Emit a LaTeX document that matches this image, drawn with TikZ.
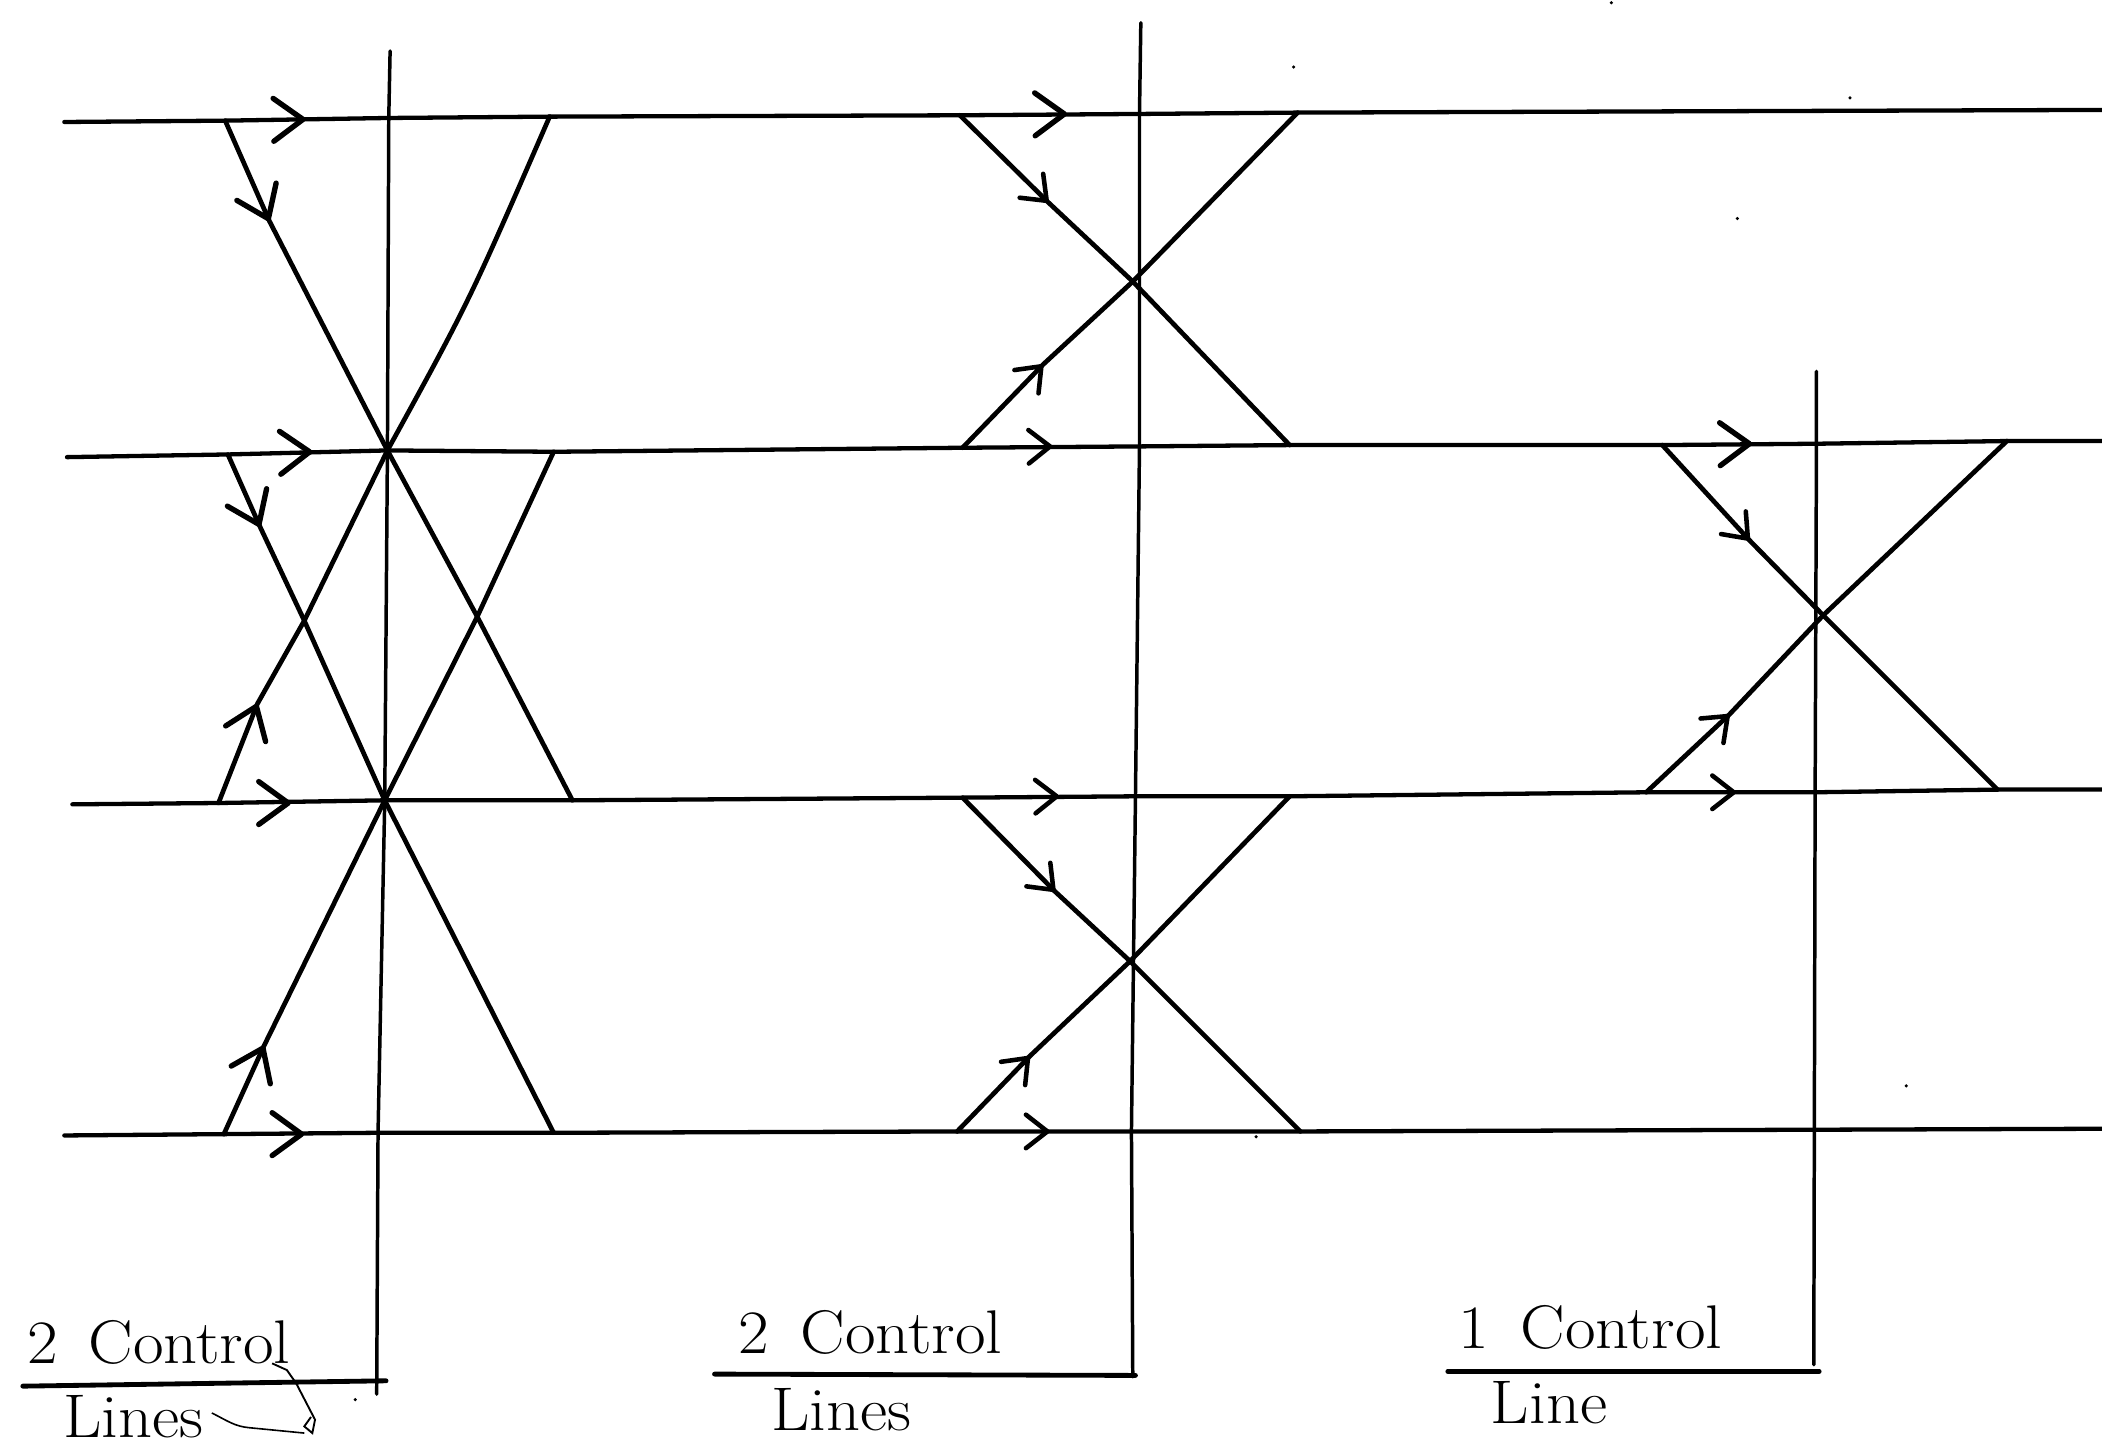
\documentclass[tikz,border=0pt]{standalone}
\usepackage{tikz}
\usepackage{graphicx}
\usetikzlibrary{arrows.meta,calc}
\newcommand{\wide}[1]{\scalebox{1.08}[1]{#1}}

\begin{document}
\begin{tikzpicture}[x=1pt,y=-1pt,
  every node/.style={font=\fontsize{46}{50}\selectfont,inner sep=0pt,anchor=base west},
  hl/.style={draw=black,line width=3.2pt,line cap=round,line join=round},
  vl/.style={draw=black,line width=2.6pt,line cap=round,line join=round},
  sl/.style={draw=black,line width=3.5pt,line cap=round,line join=round},
  rl/.style={draw=black,line width=3.6pt,line cap=round},
  ar/.style={-{Straight Barb[length=22pt,width=32pt,line width=4pt,round]},line width=3.5pt},
  ars/.style={-{Straight Barb[length=16pt,width=25pt,line width=3.4pt,round]},line width=3.2pt}]
\useasboundingbox (0,0) rectangle (1568,1076);
% horizontal lines, junctions from left to right
\coordinate (a0) at (48,91); \coordinate (a1) at (168,90); \coordinate (a2) at (290,88); \coordinate (a3) at (410,87);
\coordinate (a4) at (716,86); \coordinate (a5) at (850,85); \coordinate (a6) at (968,84); \coordinate (a7) at (1568,82);
\coordinate (b0) at (50,341); \coordinate (b1) at (170,339); \coordinate (b2) at (289,336); \coordinate (b3) at (413,337);
\coordinate (b4) at (718,334); \coordinate (b5) at (850,333); \coordinate (b6) at (962,332); \coordinate (b7) at (1240,332);
\coordinate (b8) at (1355,331); \coordinate (b9) at (1497,329); \coordinate (b10) at (1568,329);
\coordinate (c0) at (54,600); \coordinate (c1) at (163,599); \coordinate (c2) at (287,597); \coordinate (c3) at (427,597);
\coordinate (c4) at (718,595); \coordinate (c5) at (847,594); \coordinate (c6) at (962,594); \coordinate (c7) at (1228,591);
\coordinate (c8) at (1354,591); \coordinate (c9) at (1490,589); \coordinate (c10) at (1568,589);
\coordinate (d0) at (48,847); \coordinate (d1) at (167,846); \coordinate (d2) at (282,845); \coordinate (d3) at (413,845);
\coordinate (d4) at (714,844); \coordinate (d5) at (844,844); \coordinate (d6) at (970,844); \coordinate (d7) at (1568,842);
% crossings
\coordinate (x1) at (227,463); \coordinate (x2) at (356,460);
\coordinate (x3) at (845,210); \coordinate (x4) at (843,717); \coordinate (x5) at (1360,459);
% ends of the control lines
\coordinate (v1) at (291,38); \coordinate (w1) at (281,1040);
\coordinate (v2) at (851,17); \coordinate (w2) at (845,1027);
\coordinate (v3) at (1355,277); \coordinate (w3) at (1353,1018);
\coordinate (r1) at (17,1034); \coordinate (s1) at (288,1030);
\coordinate (r2) at (533,1025); \coordinate (s2) at (847,1026);
\coordinate (r3) at (1080,1023); \coordinate (s3) at (1357,1023);
% arrow points
\coordinate (t1) at (228,89); \coordinate (t2) at (796,85); \coordinate (t3) at (233,337); \coordinate (t4) at (785,333);
\coordinate (t5) at (1307,331); \coordinate (t6) at (217,599); \coordinate (t7) at (790,594); \coordinate (t8) at (1295,591);
\coordinate (t9) at (227,846); \coordinate (t10) at (783,844);
\coordinate (u1) at (201,165); \coordinate (u2) at (194,393); \coordinate (u3) at (192,525); \coordinate (u4) at (197,780);
\coordinate (u5) at (782,151); \coordinate (u6) at (778,272); \coordinate (u7) at (787,665); \coordinate (u8) at (768,788);
\coordinate (u9) at (1305,403); \coordinate (u10) at (1290,533);

\draw[hl] (a0) -- (a1) -- (a2) -- (a3) -- (a4) -- (a5) -- (a6) -- (a7);
\draw[hl] (b0) -- (b1) -- (b2) -- (b3) -- (b4) -- (b5) -- (b6) -- (b7) -- (b8) -- (b9) -- (b10);
\draw[hl] (c0) -- (c1) -- (c2) -- (c3) -- (c4) -- (c5) -- (c6) -- (c7) -- (c8) -- (c9) -- (c10);
\draw[hl] (d0) -- (d1) -- (d2) -- (d3) -- (d4) -- (d5) -- (d6) -- (d7);
\draw[vl] (v1) -- (a2) -- (b2) -- (c2) -- (d2) -- (w1);
\draw[vl] (v2) -- (a5) -- (b5) -- (c5) -- (d5) -- (w2);
\draw[vl] (v3) -- (b8) -- (c8) -- (w3);
\draw[sl] (a1) -- (u1) -- (b2); \draw[sl] (a3) .. controls (350,225) .. (b2);
\draw[sl] (b1) -- (u2) -- (x1) -- (c2); \draw[sl] (b3) -- (x2) -- (c2);
\draw[sl] (b2) -- (x1) -- (u3) -- (c1); \draw[sl] (b2) -- (x2) -- (c3);
\draw[sl] (c2) -- (u4) -- (d1); \draw[sl] (c2) -- (d3);
\draw[sl] (a4) -- (u5) -- (x3) -- (b6); \draw[sl] (a6) -- (x3) -- (u6) -- (b4);
\draw[sl] (c4) -- (u7) -- (x4) -- (d6); \draw[sl] (c6) -- (x4) -- (u8) -- (d4);
\draw[sl] (b7) -- (u9) -- (x5) -- (c9); \draw[sl] (b9) -- (x5) -- (u10) -- (c7);
\foreach \p/\q in {a1/t1,a4/t2,b1/t3,c1/t6,d1/t9,b7/t5,a1/u1,b1/u2,c1/u3,d1/u4}
  \draw[ar] ($(\q)!5pt!(\p)$) -- (\q);
\foreach \p/\q in {b4/t4,c4/t7,c7/t8,d4/t10,b4/u6,a4/u5,c4/u7,d4/u8,b7/u9,c7/u10}
  \draw[ars] ($(\q)!5pt!(\p)$) -- (\q);
\draw[rl] (r1) -- (s1); \draw[rl] (r2) -- (s2); \draw[rl] (r3) -- (s3);
\node (n1) at (20,1017) {\wide{2\ \,Control}};
\node (l1) at (47,1072) {\wide{Lines}};
\node (n2) at (551,1010) {\wide{2\ \,Control}};
\node (l2) at (575,1067) {\wide{Lines}};
\node (n3) at (1088,1006) {\wide{1\ \,Control}};
\node (l3) at (1112,1062) {\wide{Line}};
% pen marks
\draw[line width=1.4pt] (203,1017) -- (214,1022) -- (221,1032) -- (235,1059) -- (233,1069) -- (227,1064) -- (232,1057);
\draw[line width=1.2pt] (158,1054) .. controls (170,1060) and (175,1064) .. (186,1065) -- (227,1069);
\foreach \sx/\sy in {1202/2,1380/73,1296/163,1422/810,265/1044,937/848,965/50}
  \fill (\sx,\sy) circle (1.3pt);
\end{tikzpicture}
\end{document}
